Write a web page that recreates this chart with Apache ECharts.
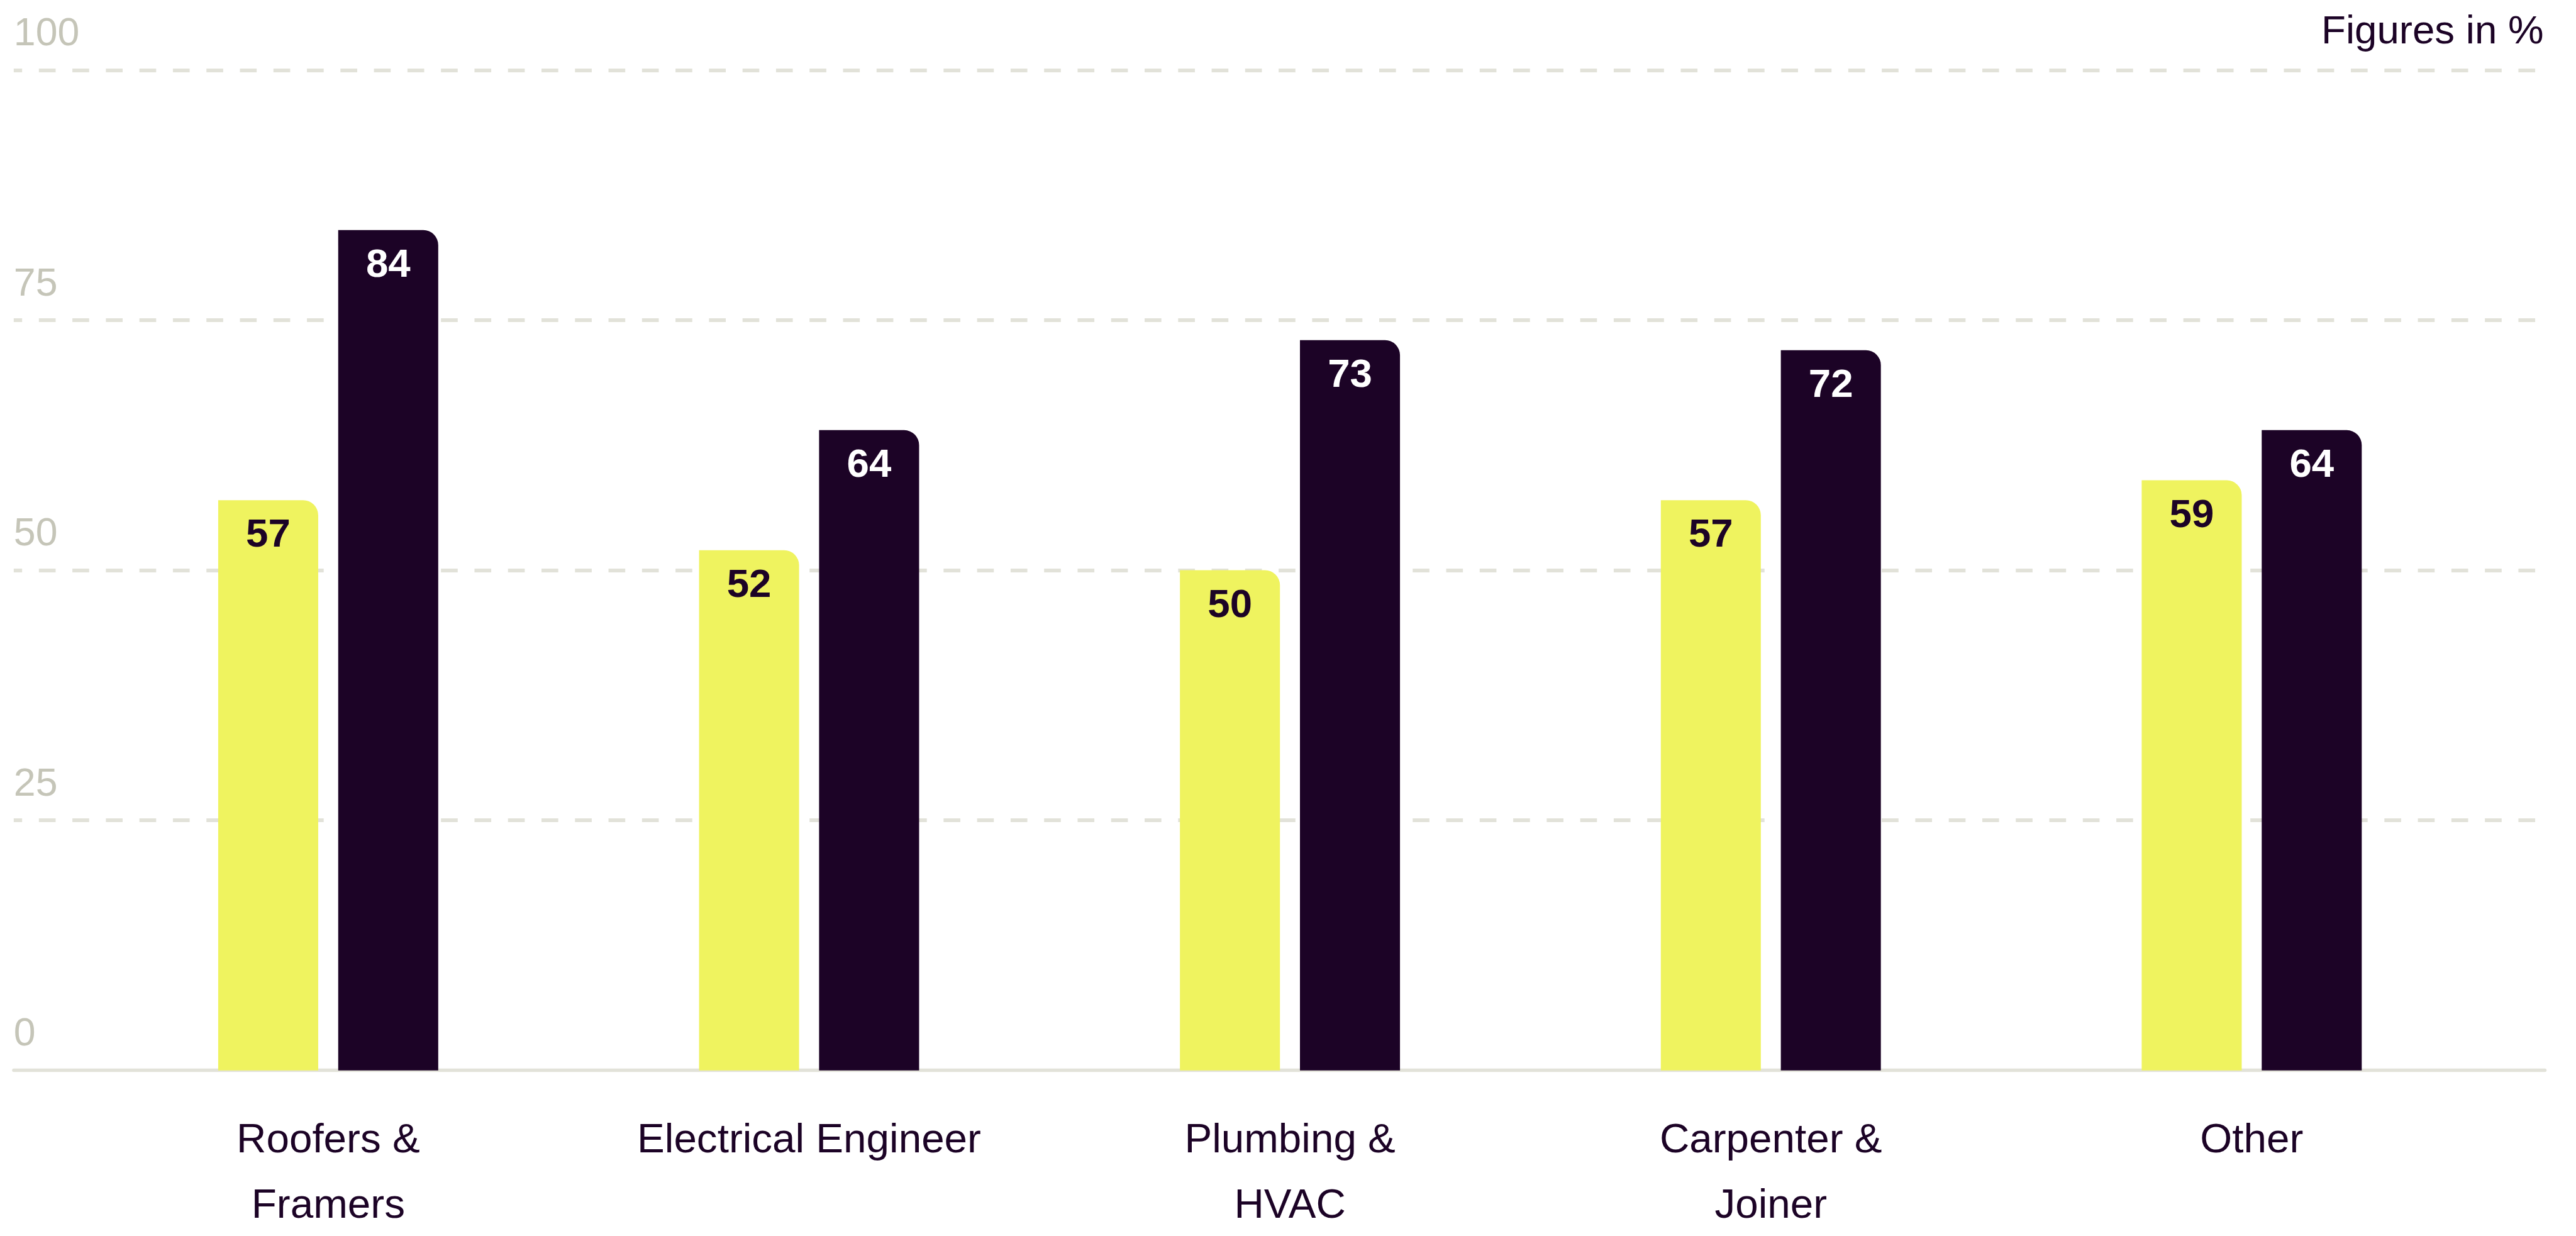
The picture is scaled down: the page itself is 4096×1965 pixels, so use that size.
<!DOCTYPE html>
<html>
<head>
<meta charset="utf-8">
<script src="https://cdn.jsdelivr.net/npm/echarts@6/dist/echarts.min.js"></script>
<style>
  html, body { margin: 0; padding: 0; background: #ffffff; }
  #chart { width: 4096px; height: 1965px; }
</style>
</head>
<body>
<div id="chart"></div>
<script>
// ---- data ----
const categories = ['Roofers &\nFramers', 'Electrical Engineer', 'Plumbing &\nHVAC', 'Carpenter &\nJoiner', 'Other'];
const seriesAValues = [57, 52, 50, 57, 59];
const seriesBValues = [84, 64, 73, 72, 64];
const yTicks = [0, 25, 50, 75, 100];
const unitNote = 'Figures in %';

// ---- layout / style ----
const S = 0.994;
const FONT = '"Liberation Sans", Arial, sans-serif';
const YELLOW = '#EFF35F';
const DARK = '#1C0326';
const GRID_COLOR = '#E2E2D9';
const TICK_COLOR = '#C5C5B8';

const gridTop = 112 * S;
const gridBottom = 1965 - 1712 * S;

const chart = echarts.init(document.getElementById('chart'), null, { renderer: 'canvas' });

const option = {
  backgroundColor: '#ffffff',
  animation: false,
  title: {
    text: unitNote,
    right: 4096 - 4069 * S,
    top: 20 * S,
    padding: 0,
    textStyle: {
      fontFamily: FONT,
      fontWeight: 'normal',
      fontSize: 64 * S,
      lineHeight: 64 * S,
      color: DARK
    }
  },
  grid: [
    { left: 22 * S, right: 4096 - 4071 * S, top: gridTop, bottom: gridBottom, containLabel: false, outerBoundsMode: 'none' },
    { left: 140.4 * S, right: 4096 - 3986.6 * S, top: gridTop, bottom: gridBottom, containLabel: false, outerBoundsMode: 'none' }
  ],
  xAxis: [
    {
      gridIndex: 0, type: 'value', min: 0, max: 1,
      axisLine: { show: true, lineStyle: { color: GRID_COLOR, width: 5.3 * S } },
      axisTick: { show: false }, axisLabel: { show: false }, splitLine: { show: false }
    },
    {
      gridIndex: 1, type: 'category', data: categories,
      axisLine: { show: false }, axisTick: { show: false }, splitLine: { show: false },
      axisLabel: {
        interval: 0,
        margin: 61 * S,
        fontFamily: FONT,
        fontSize: 66 * S,
        lineHeight: 104.5 * S,
        color: DARK,
        align: 'center',
        verticalAlign: 'top'
      }
    }
  ],
  yAxis: [
    {
      gridIndex: 0, type: 'value', min: yTicks[0], max: yTicks[yTicks.length - 1], interval: yTicks[1] - yTicks[0],
      axisLine: { show: false }, axisTick: { show: false },
      axisLabel: {
        inside: true,
        margin: 0,
        align: 'left',
        verticalAlign: 'bottom',
        fontFamily: FONT,
        fontSize: 63 * S,
        lineHeight: 114 * S,
        color: TICK_COLOR
      },
      splitLine: {
        show: true,
        showMinLine: false,
        lineStyle: { color: GRID_COLOR, width: 6 * S, type: [26.8 * S, 26.8 * S], dashOffset: 13.4 * S }
      }
    },
    {
      gridIndex: 1, type: 'value', min: yTicks[0], max: yTicks[yTicks.length - 1], interval: yTicks[1] - yTicks[0],
      show: false, splitLine: { show: false }
    }
  ],
  series: [
    {
      name: 'Series 1', type: 'bar', xAxisIndex: 1, yAxisIndex: 1,
      data: seriesAValues,
      barWidth: 160 * S,
      barGap: '20%',
      itemStyle: { color: YELLOW, borderRadius: [0, 24 * S, 0, 0] },
      label: {
        show: true, position: 'insideTop', distance: 25 * S,
        fontFamily: FONT, fontWeight: 'bold', fontSize: 64 * S, lineHeight: 64 * S,
        color: DARK
      }
    },
    {
      name: 'Series 2', type: 'bar', xAxisIndex: 1, yAxisIndex: 1,
      data: seriesBValues,
      barWidth: 160 * S,
      barGap: '20%',
      itemStyle: { color: DARK, borderRadius: [0, 24 * S, 0, 0] },
      label: {
        show: true, position: 'insideTop', distance: 25 * S,
        fontFamily: FONT, fontWeight: 'bold', fontSize: 64 * S, lineHeight: 64 * S,
        color: '#ffffff'
      }
    }
  ]
};

chart.setOption(option);
</script>
</body>
</html>
